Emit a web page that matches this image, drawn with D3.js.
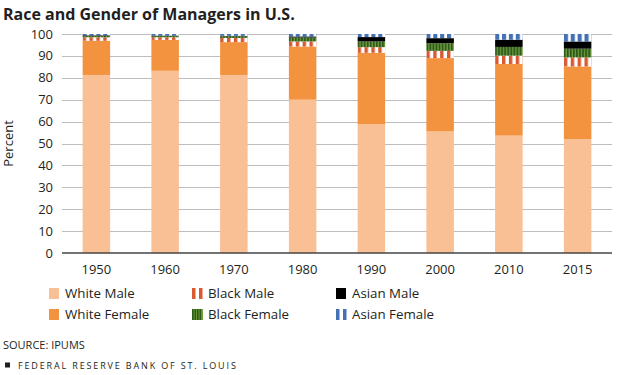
<!DOCTYPE html>
<html>
<head>
<meta charset="utf-8">
<script src="https://cdn.jsdelivr.net/npm/d3@7"></script>
<style>
  body { margin: 0; background: #fff; }
  svg { display: block; font-family: 'Open Sans', sans-serif; }
</style>
</head>
<body>
<svg id="chart" width="621" height="375"></svg>
<script>
// Data (percent of managers)
const years = ['1950', '1960', '1970', '1980', '1990', '2000', '2010', '2015'];
const series = ['White Male', 'White Female', 'Black Male', 'Black Female', 'Asian Male', 'Asian Female'];
const whiteMale = [81.3, 83.2, 81.3, 70.0, 58.8, 55.5, 53.6, 52.0];
const whiteFemale = [15.6, 14.1, 15.0, 24.3, 32.6, 33.5, 32.7, 33.2];
const blackMale = [1.6, 1.2, 1.9, 2.3, 2.6, 3.3, 3.8, 4.1];
const blackFemale = [0.6, 0.6, 0.8, 1.8, 2.6, 3.5, 4.0, 4.0];
const asianMale = [0.3, 0.2, 0.2, 0.5, 2.0, 2.3, 3.3, 3.3];
const asianFemale = [0.6, 0.7, 0.8, 1.1, 1.4, 1.9, 2.6, 3.4];
const yTicks = [0, 10, 20, 30, 40, 50, 60, 70, 80, 90, 100];

const values = [whiteMale, whiteFemale, blackMale, blackFemale, asianMale, asianFemale];
const rows = years.map((y, i) => {
  const r = { year: y };
  series.forEach((s, j) => (r[s] = values[j][i]));
  return r;
});

const ink = '#231f20';
const fills = {
  'White Male': '#f9bf95',
  'White Female': '#f4933f',
  'Black Male': 'url(#bm)',
  'Black Female': 'url(#bf)',
  'Asian Male': '#000',
  'Asian Female': 'url(#af)',
};

const svg = d3.select('#chart');
const margin = { top: 34, left: 62, right: 9, bottom: 122 };
const width = 621 - margin.left - margin.right;
const height = 375 - margin.top - margin.bottom;

// Stripe patterns, scaled to each segment's box
const defs = svg.append('defs');
function stripes(id, periods, color, share, bg) {
  const p = defs
    .append('pattern')
    .attr('id', id)
    .attr('patternUnits', 'objectBoundingBox')
    .attr('patternContentUnits', 'objectBoundingBox')
    .attr('width', 1 / periods)
    .attr('height', 1);
  p.append('rect').attr('width', 1 / periods).attr('height', 1).attr('fill', bg);
  p.append('rect').attr('width', share / periods).attr('height', 1).attr('fill', color);
}
stripes('bm', 4, '#d75a32', 0.5, '#fff');
stripes('bf', 9, '#2f5a1c', 0.6, '#6f9e3e');
stripes('af', 4, '#4472b4', 0.6, '#fff');

// Title
svg.append('text')
  .attr('x', 3)
  .attr('y', 20)
  .attr('fill', ink)
  .attr('font-size', 16)
  .attr('font-weight', 700)
  .text('Race and Gender of Managers in U.S.');

const g = svg.append('g').attr('transform', `translate(${margin.left},${margin.top})`);

const x = d3.scaleBand().domain(years).range([0, width]).paddingInner(0.6).paddingOuter(0.3);
const y = d3.scaleLinear().domain([0, 100]).range([height, 0]);

// Gridlines
g.append('g')
  .selectAll('line')
  .data(yTicks.filter((d) => d > 0))
  .join('line')
  .attr('x1', 0)
  .attr('x2', width)
  .attr('y1', (d) => Math.round(y(d)) + 0.5)
  .attr('y2', (d) => Math.round(y(d)) + 0.5)
  .attr('stroke', '#bdbdbd');

// Y axis labels
g.append('g')
  .selectAll('text')
  .data(yTicks)
  .join('text')
  .attr('x', -9)
  .attr('y', (d) => y(d) + 4.5)
  .attr('text-anchor', 'end')
  .attr('font-size', 13)
  .attr('fill', ink)
  .text((d) => d);

svg.append('text')
  .attr('transform', `translate(13,${margin.top + height / 2}) rotate(-90)`)
  .attr('text-anchor', 'middle')
  .attr('font-size', 13)
  .attr('fill', ink)
  .text('Percent');

// Stacked bars
const stacked = d3.stack().keys(series)(rows);
g.append('g')
  .selectAll('g')
  .data(stacked)
  .join('g')
  .attr('fill', (d) => fills[d.key])
  .selectAll('rect')
  .data((d) => d)
  .join('rect')
  .attr('x', (d) => x(d.data.year))
  .attr('width', x.bandwidth())
  .attr('y', (d) => y(d[1]))
  .attr('height', (d) => Math.max(0, y(d[0]) - y(d[1])));

// Baseline
g.append('line')
  .attr('x1', 0)
  .attr('x2', width)
  .attr('y1', height)
  .attr('y2', height)
  .attr('stroke', '#444')
  .attr('stroke-width', 1.5);

// X labels
g.append('g')
  .selectAll('text')
  .data(years)
  .join('text')
  .attr('x', (d) => x(d) + x.bandwidth() / 2)
  .attr('y', height + 21)
  .attr('text-anchor', 'middle')
  .attr('font-size', 13)
  .attr('fill', ink)
  .text((d) => d);

// Legend
const legendPos = [
  [49, 288], [49, 309], [192, 288], [192, 309], [336, 288], [336, 309],
];
const legend = svg.append('g')
  .selectAll('g')
  .data(series)
  .join('g')
  .attr('transform', (d, i) => `translate(${legendPos[i][0]},${legendPos[i][1]})`);

legend.each(function (d) {
  const el = d3.select(this);
  if (d === 'Black Male' || d === 'Asian Female') {
    const c = d === 'Black Male' ? '#d75a32' : '#4472b4';
    el.append('rect').attr('width', 3.5).attr('height', 11).attr('fill', c);
    el.append('rect').attr('x', 7).attr('width', 3.5).attr('height', 11).attr('fill', c);
  } else if (d === 'Black Female') {
    el.append('rect').attr('width', 11).attr('height', 11).attr('fill', '#6f9e3e');
    [0, 2.5, 5, 7.5].forEach((o) =>
      el.append('rect').attr('x', o).attr('width', 1.6).attr('height', 11).attr('fill', '#2f5a1c')
    );
  } else {
    el.append('rect').attr('width', 10).attr('height', 11).attr('fill', fills[d]);
  }
  el.append('text')
    .attr('x', 16)
    .attr('y', 10)
    .attr('font-size', 13.3)
    .attr('fill', ink)
    .text(d);
});

// Source + footer
svg.append('text')
  .attr('x', 3)
  .attr('y', 349)
  .attr('font-size', 11)
  .attr('fill', ink)
  .text('SOURCE: IPUMS');

svg.append('rect').attr('x', 5).attr('y', 362.5).attr('width', 5).attr('height', 5).attr('fill', ink);
svg.append('text')
  .attr('x', 18)
  .attr('y', 368.5)
  .attr('font-size', 9)
  .attr('letter-spacing', 1.85)
  .attr('fill', ink)
  .text('FEDERAL RESERVE BANK OF ST. LOUIS');
</script>
</body>
</html>
